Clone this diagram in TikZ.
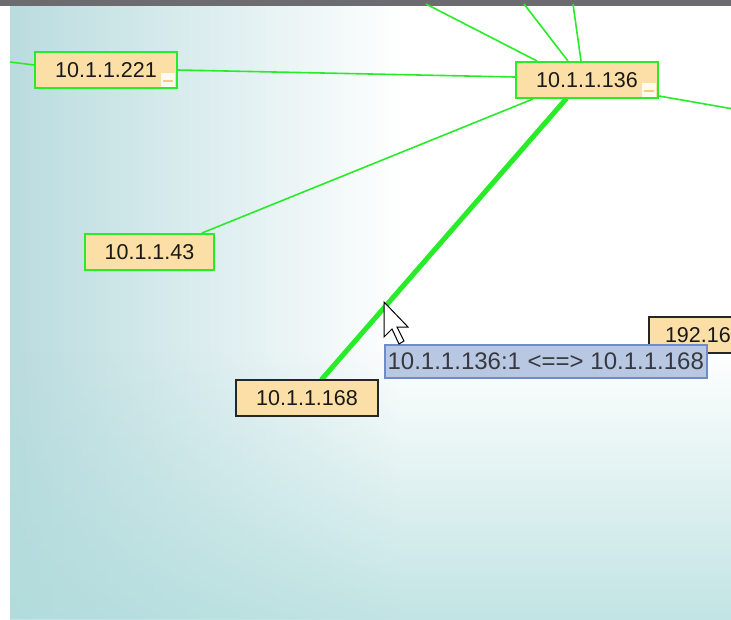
\documentclass[tikz,border=0pt]{standalone}
\usepackage{fontspec}
\setmainfont{Liberation Sans}
\usetikzlibrary{fadings}
\definecolor{bgteal}{RGB}{158,206,210}
\definecolor{bgteal2}{RGB}{176,220,220}
\definecolor{topbar}{RGB}{108,108,112}
\definecolor{nodefill}{RGB}{252,223,166}
\definecolor{lgreen}{RGB}{40,236,40}
\definecolor{tipfill}{RGB}{184,200,226}
\definecolor{tipdraw}{RGB}{112,140,200}
\definecolor{tiptext}{RGB}{56,56,64}
\definecolor{iconfill}{RGB}{255,250,240}
\definecolor{icondash}{RGB}{250,200,130}
\tikzfading[name=fadeR, left color=transparent!0, right color=transparent!100]
\tikzfading[name=fadeU, top color=transparent!100, bottom color=transparent!0]
\tikzset{
  hostbox/.style={draw=lgreen, line width=2pt, fill=nodefill, inner sep=0pt,
    minimum width=142pt, minimum height=36pt, anchor=north west,
    font=\fontsize{21.5}{24}\selectfont, text=black!90},
  blackbox/.style={hostbox, draw=black!85},
  edge/.style={draw=lgreen, line width=1.6pt},
  thickedge/.style={draw=lgreen, line width=5pt, line cap=round},
  tipbox/.style={draw=tipdraw, line width=1.5pt, fill=tipfill, inner sep=0pt,
    minimum width=322pt, minimum height=33pt, anchor=north west,
    font=\fontsize{24}{27}\selectfont, text=tiptext},
  iconbox/.style={fill=iconfill},
  icondashline/.style={draw=icondash, line width=2pt},
  pointer/.style={fill=white, draw=black, line width=1pt, line join=miter},
}
\begin{document}
\begin{tikzpicture}[x=1pt,y=-1pt]
\useasboundingbox (0,0) rectangle (731,619);
\begin{scope}
\clip (0,0) rectangle (731,619);
% background
\fill[white] (0,0) rectangle (731,619);
\fill[bgteal, path fading=fadeR] (-150,6) rectangle (400,619);
\fill[bgteal2, path fading=fadeU] (10,350) rectangle (731,700);
\fill[white] (0,0) rectangle (10,619);
\fill[topbar] (0,0) rectangle (731,6);

% free ends
\coordinate (l0) at (10,62);
\coordinate (t1) at (426,4);
\coordinate (t2) at (524,4);
\coordinate (t3) at (573,4);
\coordinate (r1) at (745,111);

% nodes (placed first so connectors can refer to them; drawn again on top)
\path (34,51) node[hostbox] (n221) {10.1.1.221\hspace{4pt}};
\path (515,61) node[hostbox] (n136) {10.1.1.136\hspace{4pt}};
\path (84,233) node[hostbox, minimum width=129pt] (n43) {10.1.1.43\hspace{4pt}};
\path (235,379) node[blackbox] (n168) {10.1.1.168\hspace{4pt}};
\path (648,316) node[blackbox, minimum width=0pt, inner xsep=16pt] (n192) {192.16};

% connectors
\draw[edge] (l0) -- ([shift={(0,14)}]n221.north west);
\draw[edge] ([shift={(0,19)}]n221.north east) -- ([shift={(0,16)}]n136.north west);
\draw[edge] (t1) -- ([shift={(22,0)}]n136.north west);
\draw[edge] (t2) -- ([shift={(53,0)}]n136.north west);
\draw[edge] (t3) -- ([shift={(66,0)}]n136.north west);
\draw[edge] ([shift={(0,-3)}]n136.south east) -- (r1);
\draw[edge] ([shift={(18,0)}]n136.south west) -- ([shift={(-13,0)}]n43.north east);
\draw[thickedge] ([shift={(51,0)}]n136.south west) -- ([shift={(87,0)}]n168.north west);

% nodes on top of connectors
\path (34,51) node[hostbox] {10.1.1.221\hspace{4pt}};
\path (515,61) node[hostbox] {10.1.1.136\hspace{4pt}};
\path (84,233) node[hostbox, minimum width=129pt] {10.1.1.43\hspace{4pt}};
\path (235,379) node[blackbox] {10.1.1.168\hspace{4pt}};
\path (648,316) node[blackbox, minimum width=0pt, inner xsep=16pt] {192.16};

% collapse icons
\fill[iconbox] ([shift={(-17,-16)}]n221.south east) rectangle ([shift={(-3,-2)}]n221.south east);
\draw[icondashline] ([shift={(-15,-8)}]n221.south east) -- ([shift={(-5,-8)}]n221.south east);
\fill[iconbox] ([shift={(-17,-16)}]n136.south east) rectangle ([shift={(-3,-2)}]n136.south east);
\draw[icondashline] ([shift={(-15,-8)}]n136.south east) -- ([shift={(-5,-8)}]n136.south east);

% tooltip
\node[tipbox] (tt) at (384,344) {10.1.1.136:1 <==> 10.1.1.168};

% mouse pointer
\draw[pointer] (384,302) -- (384,337) -- (392,329) -- (399,344) -- (404,341)
  -- (397,327) -- (408,327) -- cycle;
\end{scope}
\end{tikzpicture}
\end{document}
